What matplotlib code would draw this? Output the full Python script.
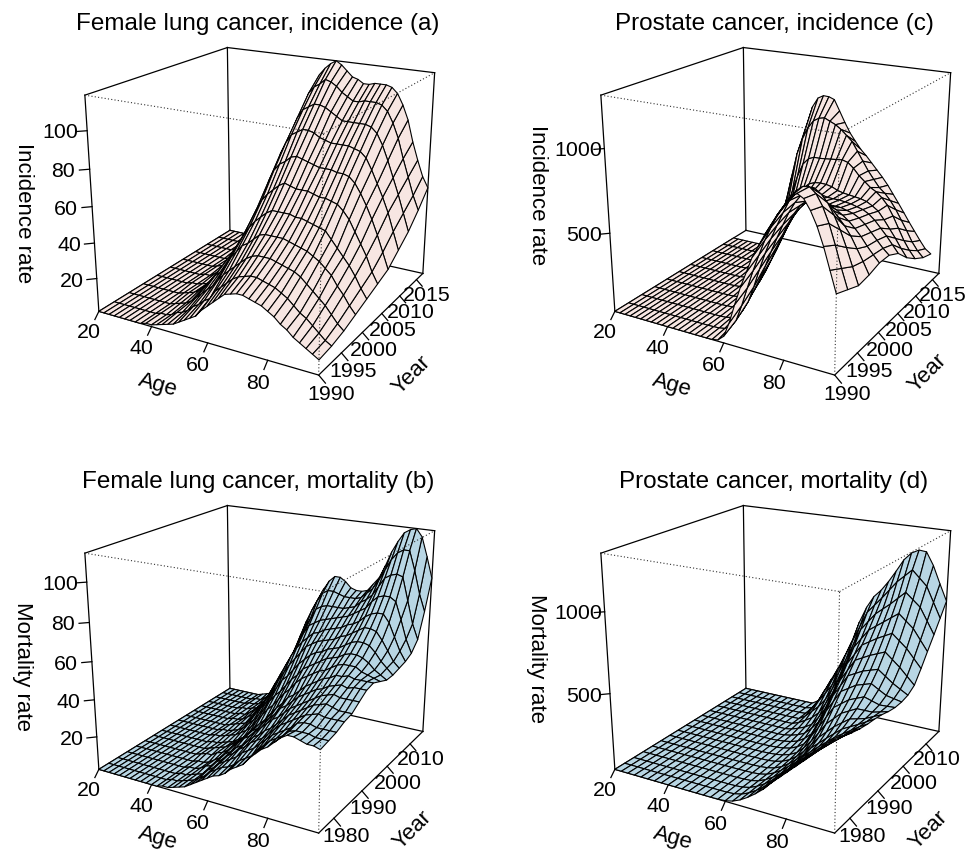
import numpy as np
import matplotlib
matplotlib.use('Agg')
import matplotlib.pyplot as plt
from mpl_toolkits.mplot3d import proj3d

plt.rcParams['font.family'] = ['Liberation Sans', 'DejaVu Sans']

#-------------------- values --------------------
age_fine = [20, 22, 24, 26, 28, 30, 32, 34, 36, 38, 40, 42, 44, 46, 48, 50, 52, 54, 56, 58,
            60, 62, 64, 66, 68, 70, 72, 74, 76, 78, 80, 82, 84, 86, 88, 90, 92, 94, 96]
age_coarse = [20, 22.5, 25, 27.5, 30, 32.5, 35, 37.5, 40, 42.5, 45, 47.5, 50, 52.5, 55, 57.5,
              60, 62.5, 65, 67.5, 70, 72.5, 75, 77.5, 80, 82.5, 85, 87.5, 90, 92.5, 95]

years_a = [1990, 1992.7, 1995.4, 1998.1, 2000.8, 2003.5, 2006.2, 2008.9, 2011.6, 2014.3, 2017]
years_c = [1990, 1992.4, 1994.8, 1997.2, 1999.6, 2002, 2004.4, 2006.8, 2009.2, 2011.6, 2014]
years_b = [1975, 1977.6, 1980.1, 1982.7, 1985.3, 1987.8, 1990.4, 1992.9, 1995.5, 1998.1,
           2000.6, 2003.2, 2005.8, 2008.3, 2010.9, 2013.4, 2016]

lung_inc = [
    [1,1,1,1,1,1, 1,1,1,2,2, 3,4,5,6,8, 10,12,14,18,21, 24,27,30,31,32, 32,31,30,29,27, 25,22,20,17,15, 13,11,9],
    [1,1,1,1,1,1, 1,1,1,2,2, 3,5,6,8,11, 13,16,18,23,26, 29,32,34,35,36, 36,35,34,33,31, 29,26,23,21,18, 15,12,10],
    [1,1,1,1,1,1, 1,1,1,2,3, 4,6,9,12,15, 18,22,26,29,32, 35,38,40,41,41, 41,40,39,38,37, 35,32,29,26,23, 19,15,12],
    [1,1,1,1,1,1, 1,1,2,3,4, 6,9,13,17,20, 24,30,34,38,40, 43,46,47,47,47, 47,46,45,44,43, 41,39,36,33,28, 24,19,15],
    [1,1,1,1,1,1, 1,2,2,3,4, 7,11,17,22,26, 32,38,43,47,50, 53,55,55,55,55, 54,54,53,52,51, 50,46,42,38,34, 29,23,18],
    [1,1,1,1,1,1, 1,2,2,4,5, 8,14,21,28,33, 41,48,54,58,61, 64,66,65,64,64, 64,63,62,62,61, 60,57,53,47,41, 35,27,21],
    [1,1,1,1,1,1, 1,2,3,4,6, 10,16,26,35,41, 50,60,67,71,73, 76,77,76,75,74, 73,73,73,72,72, 71,68,63,57,50, 42,33,24],
    [1,1,1,1,1,1, 1,2,3,5,7, 12,20,31,42,49, 60,72,79,84,86, 88,88,87,85,84, 83,83,83,83,82, 81,78,72,65,58, 50,40,30],
    [1,1,1,1,1,1, 2,2,3,5,8, 14,23,37,49,56, 68,82,90,95,97, 99,99,98,96,94, 92,92,92,92,92, 91,88,82,74,65, 56,46,36],
    [1,1,1,1,1,1, 2,3,4,6,9, 16,26,42,55,63, 76,92,101,105,107, 110,109,107,104,102, 100,100,101,101,101, 100,97,91,83,72, 62,52,44],
    [1,1,1,1,1,1, 2,3,4,6,10, 17,29,46,60,68, 83,99,109,113,116, 118,116,113,110,109, 107,107,108,108,108, 107,104,98,90,78, 68,59,53],
]

lung_mort = [
    [2,2,2,2,2,2, 2,2,2,2,2, 2,3,3,4,5, 6,8,10,12,14, 16,17,19,22,24, 26,30,33,36,38, 41,44,46,46,45, 44,44,43],
    [2,2,2,2,2,2, 2,2,2,2,2, 2,3,3,4,5, 6,8,10,13,15, 17,18,20,23,25, 27,31,34,37,39, 41,44,45,45,45, 44,44,44],
    [2,2,2,2,2,2, 2,2,2,2,2, 2,3,3,4,5, 6,9,11,14,16, 18,20,23,25,27, 30,33,36,38,40, 42,45,46,46,45, 45,45,45],
    [2,2,2,2,2,2, 2,2,2,2,2, 2,3,3,4,6, 7,10,12,15,17, 20,22,25,27,29, 32,35,38,40,42, 44,46,47,48,47, 47,47,47],
    [2,2,2,2,2,2, 2,2,2,2,2, 2,3,3,4,6, 8,11,13,16,18, 21,24,26,29,31, 34,37,40,42,44, 46,48,49,50,49, 48,48,48],
    [2,2,2,2,2,2, 2,2,2,2,2, 3,4,4,6,7, 9,12,15,18,20, 23,26,29,32,34, 37,40,42,44,46, 48,50,51,52,51, 51,51,51],
    [2,2,2,2,2,2, 2,2,2,2,2, 3,4,5,6,8, 10,13,16,19,21, 25,28,31,35,37, 40,43,45,47,49, 50,52,53,54,53, 54,54,54],
    [2,2,2,2,2,2, 2,2,2,2,3, 3,4,5,6,8, 10,13,17,20,23, 27,31,34,38,40, 43,46,48,50,52, 53,55,55,56,55, 55,55,55],
    [2,2,2,2,2,2, 2,2,2,3,3, 4,5,6,8,10, 13,17,21,25,28, 32,36,39,43,46, 48,50,52,53,55, 57,58,58,58,56, 55,54,53],
    [2,2,2,2,2,2, 2,2,2,3,3, 4,5,7,10,13, 17,21,26,30,33, 37,41,44,48,50, 52,54,56,57,58, 60,61,61,60,58, 55,53,51],
    [2,2,2,2,2,2, 2,2,2,3,4, 5,6,9,13,17, 21,26,31,36,39, 43,47,50,53,55, 56,58,59,60,62, 64,65,65,64,61, 57,54,51],
    [2,2,2,2,2,2, 2,2,3,3,4, 6,8,11,16,21, 26,32,37,42,46, 50,54,56,58,59, 60,61,63,64,66, 68,70,70,69,65, 60,55,52],
    [2,2,2,2,2,2, 2,2,3,3,5, 7,10,14,20,26, 32,38,44,49,53, 56,59,60,62,63, 64,65,67,68,70, 73,75,76,76,72, 65,58,53],
    [2,2,2,2,2,2, 2,3,3,4,5, 8,12,18,22,28, 35,42,48,55,60, 62,64,65,66,67, 68,69,71,73,75, 79,82,83,83,81, 72,62,55],
    [2,2,2,2,2,2, 2,3,3,4,6, 10,15,19,26,33, 41,48,55,61,67, 69,70,70,70,70, 71,72,75,77,80, 85,90,92,93,92, 80,68,60],
    [2,2,2,2,2,2, 2,3,3,5,7, 11,18,23,31,39, 48,56,63,69,74, 76,76,75,74,74, 74,75,78,81,86, 92,98,102,104,104, 94,82,73],
    [2,2,2,2,2,2, 2,3,4,5,8, 12,20,24,32,40, 50,60,68,74,79, 82,82,80,77,76, 76,77,81,85,92, 100,106,111,113,114, 110,100,89],
]

prostate_inc = [
    [10,10,10,10,10,10, 10,10,10,10,10, 10,10,10,10,10, 10,10,11,18,50, 140,260,370,465,560, 630,700,760,825,880, 935,960,940,885,810, 710,590,470],
    [10,10,10,10,10,10, 10,10,10,10,10, 10,10,10,10,10, 11,13,20,38,90, 190,305,415,515,610, 690,765,820,875,920, 950,955,925,865,780, 670,550,440],
    [10,10,10,10,10,10, 10,10,10,10,10, 10,10,10,10,11, 13,22,45,85,150, 250,365,470,565,650, 730,805,850,885,900, 900,875,835,775,700, 610,510,410],
    [10,10,10,10,10,10, 10,10,10,10,10, 10,10,10,12,14, 24,50,95,160,240, 330,425,515,600,680, 745,795,815,815,800, 775,745,710,670,620, 555,490,420],
    [10,10,10,10,10,10, 10,10,10,10,10, 10,11,12,18,30, 60,105,160,230,310, 400,480,560,625,680, 712,727,727,718,710, 695,672,645,610,570, 522,480,440],
    [10,10,10,10,10,10, 10,10,10,10,10, 11,14,24,40,70, 118,180,245,320,400, 480,550,605,645,670, 678,674,665,660,660, 650,640,620,590,550, 510,470,437],
    [10,10,10,10,10,10, 10,10,10,10,11, 16,28,48,80,130, 195,270,350,430,510, 575,622,650,660,660, 652,650,650,645,640, 630,620,600,570,530, 490,445,400],
    [10,10,10,10,10,10, 10,10,10,12,20, 35,65,110,165,240, 330,415,505,575,630, 662,676,680,678,670, 654,645,640,635,630, 620,600,575,530,480, 430,375,325],
    [10,10,10,10,10,10, 10,10,10,16,33, 65,120,195,285,415, 535,645,730,770,785, 785,788,792,796,800, 790,760,720,690,660, 640,610,570,510,440, 370,315,270],
    [10,10,10,10,10,10, 10,12,20,40,87, 170,290,425,585,740, 845,920,970,992,1000, 984,968,944,912,880, 824,768,712,665,620, 590,550,500,440,380, 315,265,228],
    [10,10,10,10,10,10, 11,22,55,110,218, 345,480,610,745,905, 1020,1080,1100,1098,1085, 1018,950,888,840,795, 760,720,680,640,595, 543,491,437,382,330, 278,230,204],
]

prostate_mort = [
    [10,10,10,10,10,10,10,10,10,10,10,10,10,10,10,11,14,25,46,75,110,150,200,245,290,335,380,430,480,525,565],
    [10,10,10,10,10,10,10,10,10,10,10,10,10,10,10,11,14,25,46,75,110,150,200,245,290,333,375,420,465,505,540],
    [10,10,10,10,10,10,10,10,10,10,10,10,10,10,10,11,15,26,47,75,110,150,200,243,285,328,370,410,450,488,520],
    [10,10,10,10,10,10,10,10,10,10,10,10,10,10,10,12,15,26,47,75,110,150,200,243,285,325,365,402,440,475,505],
    [10,10,10,10,10,10,10,10,10,10,10,10,10,10,11,12,16,27,48,78,115,155,205,248,290,330,370,403,435,467,495],
    [10,10,10,10,10,10,10,10,10,10,10,10,10,10,11,13,18,29,50,82,120,165,220,262,305,345,385,410,435,462,490],
    [10,10,10,10,10,10,10,10,10,10,10,10,10,11,12,14,20,33,55,90,135,190,250,295,340,375,410,422,435,458,480],
    [10,10,10,10,10,10,10,10,10,10,10,10,10,11,13,17,25,40,65,110,165,230,300,345,390,415,440,440,440,452,465],
    [10,10,10,10,10,10,10,10,10,10,10,10,10,12,15,21,32,53,85,150,220,295,370,405,440,460,480,465,450,452,455],
    [10,10,10,10,10,10,10,10,10,10,10,10,10,13,18,27,42,72,115,200,290,365,440,470,500,515,530,502,475,465,455],
    [10,10,10,10,10,10,10,10,10,10,10,10,10,14,23,38,60,105,160,260,360,435,510,535,560,575,590,555,520,492,465],
    [10,10,10,10,10,10,10,10,10,10,10,10,10,18,35,55,85,145,220,325,430,505,580,605,630,650,670,630,590,542,495],
    [10,10,10,10,10,10,10,10,10,10,10,10,10,28,55,85,130,205,290,400,510,580,650,680,710,735,760,720,680,625,570],
    [10,10,10,10,10,10,10,10,10,10,10,10,11,40,85,130,190,275,370,480,590,655,720,755,790,825,860,820,780,715,650],
    [10,10,10,10,10,10,10,10,10,10,10,10,13,60,125,190,260,360,460,570,680,740,800,840,880,925,970,930,890,810,730],
    [10,10,10,10,10,10,10,10,10,10,10,10,20,85,170,250,340,450,560,665,770,825,880,940,1000,1045,1090,1045,1000,905,810],
    [10,10,10,10,10,10,10,10,10,10,10,10,40,130,220,310,410,520,660,770,850,900,965,1040,1120,1170,1195,1190,1110,1000,895],
]

age_ticks = [20, 40, 60, 80]
year_ticks_inc = [1990, 1995, 2000, 2005, 2010, 2015]
year_ticks_mort = [1980, 1990, 2000, 2010]
rate_ticks_lung = [20, 40, 60, 80, 100]
rate_ticks_prostate = [500, 1000]

W, H = 965, 855
PINK = '#f7e6e2'
BLUE = '#b8d6e4'
TICK_SIZE = 15.4
LABEL_SIZE = 16
TITLE_SIZE = 17.5

fig = plt.figure(figsize=(W / 100, H / 100), dpi=100)


def panel(cx, cy, ages, years, rates, ylim, zlim, year_ticks, rate_ticks, colour):
    S = 400
    left = cx - 0.5135 * S
    bottom = H - (cy + 0.5135 * S)
    ax = fig.add_axes([left / W, bottom / H, S / W, S / H], projection='3d', computed_zorder=False)
    ax.set_proj_type('persp', focal_length=0.4585)
    ax.view_init(elev=20, azim=-60)
    ax.set_box_aspect((1, 1, 0.9))
    ax.set_axis_off()
    ax.patch.set_alpha(0)
    x0, x1 = ages[0], ages[-1]
    y0, y1 = ylim
    z0, z1 = zlim
    ax.set_xlim(x0, x1)
    ax.set_ylim(y0, y1)
    ax.set_zlim(z0, z1)

    # box: solid edges go behind the surface, the three dotted ones on top
    solid = [((x0, y0, z0), (x1, y0, z0)), ((x1, y0, z0), (x1, y1, z0)), ((x1, y1, z0), (x0, y1, z0)),
             ((x0, y1, z0), (x0, y0, z0)), ((x0, y0, z0), (x0, y0, z1)), ((x0, y1, z0), (x0, y1, z1)),
             ((x1, y1, z0), (x1, y1, z1)), ((x0, y0, z1), (x0, y1, z1)), ((x0, y1, z1), (x1, y1, z1))]
    dotted = [((x1, y0, z0), (x1, y0, z1)), ((x0, y0, z1), (x1, y0, z1)), ((x1, y0, z1), (x1, y1, z1))]
    for a, b in solid:
        ax.plot(*zip(a, b), color='black', lw=0.9, zorder=1)
    X, Y = np.meshgrid(ages, years)
    ax.plot_surface(X, Y, np.array(rates, dtype=float), rstride=1, cstride=1, color=colour,
                    edgecolor='black', linewidth=0.8, shade=False, zorder=2)
    for a, b in dotted:
        ax.plot(*zip(a, b), color='#333333', lw=0.8, ls=(0, (1, 2)), zorder=3)

    dx, dy, dz = x1 - x0, y1 - y0, z1 - z0
    tick, lab = 0.0275, 0.07
    M = ax.get_proj()

    def tick_label(x, y, z, v):
        px, py, _ = proj3d.proj_transform(x, y, z, M)
        ax.text2D(px, py, str(v), transform=ax.transData, size=TICK_SIZE, ha='center', va='center', zorder=4)

    for v in age_ticks:
        ax.plot([v, v], [y0, y0 - tick * dy], [z0, z0 - tick * dz], color='black', lw=0.9, zorder=1)
        tick_label(v, y0 - lab * dy, z0 - lab * dz, v)
    for v in year_ticks:
        ax.plot([x1, x1 + tick * dx], [v, v], [z0, z0 - tick * dz], color='black', lw=0.9, zorder=1)
        tick_label(x1 + 0.052 * dx, v, z0 - lab * dz, v)
    for v in rate_ticks:
        ax.plot([x0, x0 - tick * dx], [y0, y0 - tick * dy], [v, v], color='black', lw=0.9, zorder=1)
        tick_label(x0 - lab * dx, y0 - lab * dy, v, v)
    return ax


def label(x, y, s, rot=0, size=LABEL_SIZE):
    fig.text(x / W, 1 - y / H, s, size=size, rotation=rot, rotation_mode='anchor', ha='center', va='center')


CX = [267.5, 783.5]
CY = [191.5, 649.5]
panel(CX[0], CY[0], age_fine, years_a, lung_inc, (1990, 2017), (1, 118), year_ticks_inc, rate_ticks_lung, PINK)
panel(CX[1], CY[0], age_fine, years_c, prostate_inc, (1990, 2017), (10, 1300), year_ticks_inc, rate_ticks_prostate, PINK)
panel(CX[0], CY[1], age_fine, years_b, lung_mort, (1975, 2016), (2, 114), year_ticks_mort, rate_ticks_lung, BLUE)
panel(CX[1], CY[1], age_coarse, years_b, prostate_mort, (1975, 2016), (10, 1340), year_ticks_mort, rate_ticks_prostate, BLUE)

label(258, 24, 'Female lung cancer, incidence (a)', size=TITLE_SIZE)
label(774, 24, 'Prostate cancer, incidence (c)', size=TITLE_SIZE)
label(258, 482, 'Female lung cancer, mortality (b)', size=TITLE_SIZE)
label(774, 482, 'Prostate cancer, mortality (d)', size=TITLE_SIZE)

for x, y in [(158, 385), (672, 385), (158, 838), (673, 838)]:
    label(x, y, 'Age', rot=-16)
for x, y in [(412, 375), (928, 373), (413, 830), (929, 830)]:
    label(x, y, 'Year', rot=45)
label(23, 213, 'Incidence rate', rot=-90)
label(537, 195, 'Incidence rate', rot=-90)
label(22, 667, 'Mortality rate', rot=-90)
label(537, 658, 'Mortality rate', rot=-90)

fig.savefig('out.png', dpi=100)
